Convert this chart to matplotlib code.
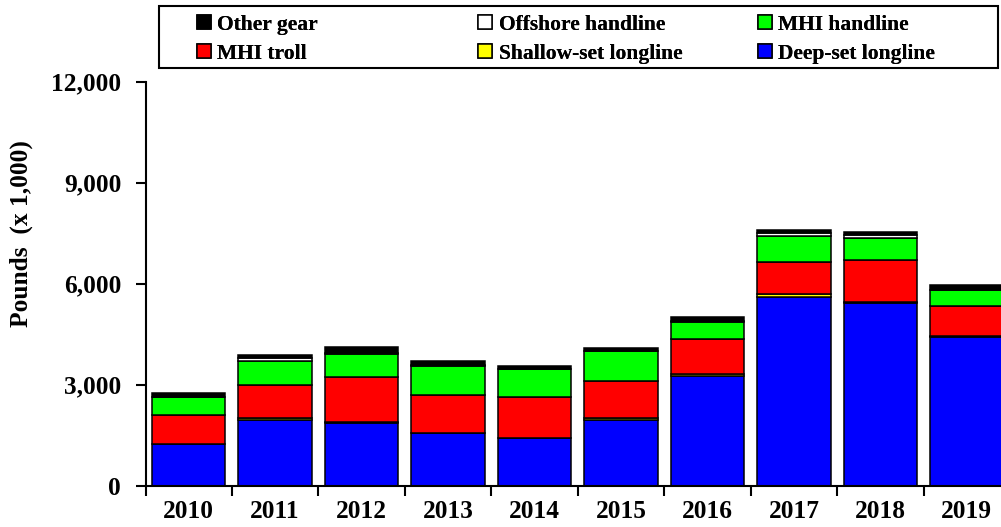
import matplotlib
matplotlib.use("Agg")
import matplotlib.pyplot as plt
import matplotlib.patches as mpatches
from matplotlib.ticker import FuncFormatter, FixedLocator
import numpy as np

# ----- data (pounds x 1,000) -----
years = ["2010", "2011", "2012", "2013", "2014", "2015", "2016", "2017", "2018", "2019"]
deep_set = [1234, 1965, 1847, 1569, 1403, 1965, 3268, 5590, 5417, 4410]
shallow_set = [0, 40, 40, 0, 0, 40, 40, 100, 40, 40]
mhi_troll = [868, 996, 1351, 1136, 1231, 1103, 1043, 961, 1253, 899]
mhi_handline = [524, 699, 681, 858, 820, 879, 515, 760, 631, 464]
offshore_handline = [10, 100, 20, 10, 10, 10, 15, 100, 100, 10]
other_gear = [125, 90, 170, 140, 90, 90, 130, 95, 105, 140]

series = [
    ("Deep-set longline", deep_set, "#0000FF"),
    ("Shallow-set longline", shallow_set, "#FFFF00"),
    ("MHI troll", mhi_troll, "#FF0000"),
    ("MHI handline", mhi_handline, "#00FF00"),
    ("Offshore handline", offshore_handline, "#FFFFFF"),
    ("Other gear", other_gear, "#000000"),
]

FONT = "Liberation Serif"
plt.rcParams["font.family"] = FONT
plt.rcParams["font.weight"] = "bold"

fig = plt.figure(figsize=(10.01, 5.27), dpi=100)
ax = fig.add_axes([145.5 / 1001, (527 - 485.7) / 527, 864.5 / 1001, 404.2 / 527])

x = np.arange(len(years))
bottom = np.zeros(len(years))
handles = {}
for name, vals, col in series:
    b = ax.bar(x, vals, width=0.85, bottom=bottom, color=col,
               edgecolor="black", linewidth=1.1, label=name)
    handles[name] = b
    bottom += np.array(vals)

ax.set_xlim(-0.5, len(years) - 0.5)
ax.set_ylim(0, 12000)
ax.set_yticks(range(0, 12001, 3000))
ax.yaxis.set_major_formatter(FuncFormatter(lambda v, p: f"{int(v):,}"))

# year labels centred, tick marks between categories
ax.set_xticks(x)
ax.set_xticklabels(years)
ax.xaxis.set_minor_locator(FixedLocator(np.arange(-0.5, len(years), 1.0)))
ax.tick_params(axis="x", which="major", length=0, pad=10, labelsize=18.3)
ax.tick_params(axis="x", which="minor", length=7.5, width=1.5, direction="out")
ax.tick_params(axis="y", length=7, width=1.5, direction="out", pad=10.5, labelsize=18.3)
for lab in ax.get_xticklabels() + ax.get_yticklabels():
    lab.set_fontweight("bold")

for s in ["top", "right"]:
    ax.spines[s].set_visible(False)
for s in ["left", "bottom"]:
    ax.spines[s].set_linewidth(1.5)

fig.text(21.7 / 1001, 1 - 234 / 527, "Pounds  (x 1,000)", rotation=90,
         ha="center", va="center", fontsize=18.3, fontweight="bold")

# legend: frame plus three evenly spaced columns
fig.patches.append(mpatches.Rectangle((159 / 1001, 1 - 67.7 / 527), (998.3 - 159) / 1001,
                                      62 / 527, transform=fig.transFigure,
                                      facecolor="white", edgecolor="black", linewidth=1.5))
columns = [("Other gear", "MHI troll"),
           ("Offshore handline", "Shallow-set longline"),
           ("MHI handline", "Deep-set longline")]
col_x = [196.7, 478.3, 757.7]
for names, cx in zip(columns, col_x):
    leg = fig.legend([handles[n] for n in names], names, loc="center left",
                     bbox_to_anchor=(cx / 1001, 1 - 39.2 / 527),
                     frameon=False, borderpad=0, borderaxespad=0,
                     handlelength=0.65, handleheight=0.65, handletextpad=0.3,
                     labelspacing=0.42, prop={"family": FONT, "weight": "bold", "size": 15.5})
    fig.add_artist(leg)

fig.savefig("out.png", dpi=100)
